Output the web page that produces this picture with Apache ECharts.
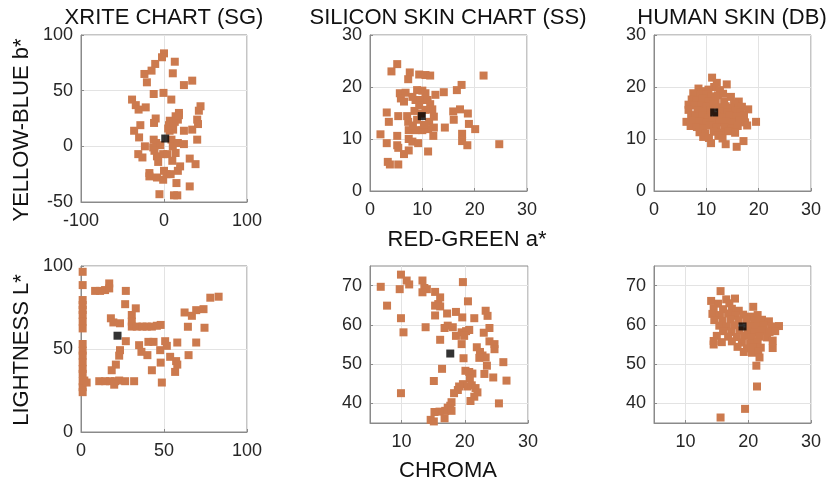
<!DOCTYPE html>
<html>
<head>
<meta charset="utf-8">
<script src="https://cdn.jsdelivr.net/npm/echarts@6/dist/echarts.min.js"></script>
<style>
html, body { margin: 0; padding: 0; background: #fff; }
#main { width: 835px; height: 487px; }
</style>
</head>
<body>
<div id="main"></div>
<script>
// ---- data: [a*, b*] top row, [C, L*] bottom row ----
const sgAB = [[0,83.5],[-2.4,80],[-10.6,74],[-15,68],[-23.6,65],[-20.6,57.5],[13,76],[10.6,65.6],[34,59],[24,55],
    [-12.4,47],[-0.6,48],[8.8,42],[-38.5,42],[-34,37],[-30.6,33],[-22,35],[44,36],[42,32],[18,30],
    [14,27],[-10,25],[-12,21],[-28.5,19],[-36,14],[-30,8],[7,23],[10.6,20],[13,22],[16.7,24],
    [8,17],[6.7,14],[11,15],[24,14],[34,15],[40,24],[41,20],[40,6],[-12.4,6],[-9.4,3],
    [-23,0],[-13,-1],[-4.5,1],[9,6],[10.6,0],[16.7,3],[24,2],[-31,-7],[-26,-10],[-11.5,-4],
    [-8.5,-9],[-1,-7],[4,-7],[14,-6],[-7,-14],[10,-13],[31,-11],[38,-16],[16.7,-22],[19.4,-18],
    [0,-22],[3,-25],[8,-25],[-17.6,-24],[-17.6,-27],[-8.5,-28],[-1,-30],[15,-33],[31,-36],[-5.5,-43],
    [12,-44],[16,-44],[5,16],[6,19],[11,21],[15,25],[18,28]];
const sgMeanAB = [[1.5,7]];

const ssAB = [[5.2,24.4],[4.1,23],[7.6,22.8],[7.3,21.5],[9.4,22.4],[10.6,22.3],[11.5,22.2],[21.7,22.2],[17.5,20.4],[16.6,19.4],
    [5.7,18.8],[6.8,18.9],[5.9,17.8],[6.5,17.2],[9,19.4],[10,19.3],[10.6,18.8],[8.7,17.5],[9.7,17.5],[11,17.5],
    [12.5,18.5],[14.1,19],[11.5,16.7],[11.9,15.7],[8.5,15.4],[3.2,15.1],[3.6,13.3],[5.4,14.4],[7.1,14.4],[7.3,13.3],
    [11.3,13.3],[15.9,15.3],[17.2,15.7],[18.7,14.9],[16,13.7],[18.9,12.9],[20.1,11.9],[14.3,12.2],[12.2,12.2],[7.4,11.7],
    [8.7,11.7],[10,11.7],[11.1,11.9],[12.1,10.6],[2,10.9],[5.2,10.6],[7.4,10],[8.1,9.5],[9.2,9.2],[17.6,11],
    [17.6,9.6],[18.6,8.8],[24.7,9],[3.2,9.2],[5.2,8.8],[5.4,8.3],[11.1,7.6],[7.4,7.8],[6.5,7.1],[3.4,5.6],
    [3.8,5.1],[5.4,5.1],[8.1,18.1],[9.4,16.5],[10.6,15.6],[9,13.7],[10.3,12.7],[12.2,14.3],[8.2,12.6],[9.8,14.9]];
const ssMeanAB = [[9.9,14.4]];

const dbAB = [[11.1,21.8],[13.9,20.5],[12,20.8],[11.5,20],[8.5,19.7],[9.5,19.2],[10.4,19.5],[12.6,19.4],[7.5,18.8],[8.8,18.5],
    [10,18.6],[11,18.2],[12.2,18.4],[13.2,18.7],[14.7,18.1],[7.2,17.6],[8.2,17.4],[9.2,17.8],[10.5,17.3],[11.8,17.5],
    [13.4,17.2],[16.2,17.2],[15.3,16.8],[6.6,16.6],[7.8,16.5],[9,16.4],[10.1,16.2],[11.3,16.6],[12.5,16.1],[13.7,16.3],
    [14.6,16],[16.8,16.2],[6.6,15.6],[8.3,15.5],[9.6,15.2],[10.8,15.4],[12.8,15.3],[14,15.1],[15.5,15.4],[16.5,15.1],
    [18,15.7],[7.1,14.6],[8,14.3],[9.2,14.5],[10.4,14.1],[12,14.4],[13.2,14.2],[14.5,14.6],[15.8,14.3],[17.2,14.6],
    [6.2,13.3],[7.5,13.5],[8.7,13.3],[10,13.1],[11.2,13.6],[12.6,13.2],[13.9,13.4],[15.1,13.1],[16.3,13.5],[17.4,13.2],
    [19.5,13.3],[7,12.5],[8.2,12.3],[9.4,12.1],[10.7,12.6],[12,12.2],[13.5,12.3],[14.8,12.1],[16,12.5],[17.8,12.6],
    [8.7,11.3],[9.8,11.1],[11.4,11.4],[12.8,11.2],[14.2,11.5],[15.5,11.2],[9.4,10.4],[10.5,10.2],[12.3,10.6],[13.1,10.1],
    [10.9,9.2],[13.7,9],[17.1,9.6],[15.8,8.5]];
const dbMeanAB = [[11.5,15.1]];

const sgLC = [[1,96.5],[1,88.5],[1,79.5],[1,76.5],[1,73.5],[1,70.5],[1,66.5],[1,62.4],[1,53],[1,49],
    [1,46],[1,42],[1,38],[1,35],[1,30.5],[1,27],[1,24],[2,31],
    [8.5,85],[11.5,85],[14.5,85.5],[17,86.5],[17,89.5],[27,85],[26.6,77],[33,74.5],[30.6,70.5],[30.6,66.5],
    [30.6,63.5],[33.6,63.5],[37,63.5],[39.6,63.5],[42.7,63.5],[45.7,64],[48,64.5],[18,68.5],[19.5,66],[23.5,65.5],
    [27,54.7],[23.5,49.3],[23,46],[21,40.6],[18.5,37.2],[3.4,29.8],[11,30.6],[14.5,30.6],[17.5,30.6],[20.5,30.6],
    [23,31],[26.6,30.6],[32,30.6],[20,28.5],[48.7,29.8],[35,52.3],[36.4,48.3],[40,46.3],[40.6,54.3],[43.7,54.3],
    [47.7,49.3],[48,41.8],[42.7,37.2],[50.7,54.7],[51.7,51.9],[53.7,45.3],[57.3,42.7],[58,40.6],[56.7,36.2],[58,53.9],
    [64.8,46.3],[69.4,53.9],[64.4,63.4],[62.4,72],[66.8,70],[69.4,73.4],[73.8,74],[74.4,62.8],[77.9,80.9],[82.9,81.5]];
const sgMeanLC = [[22,58]];

const ssLC = [[6.7,69.7],[7.7,64.9],[9.9,72.8],[9.7,69.1],[10.8,71.3],[11.2,70.3],[9.9,61.7],[10.3,58.1],[9.9,42.6],[13.3,71.3],
    [13.6,69.4],[14,69.1],[13.3,68.3],[15.3,68.4],[16.1,67],[15.8,65.3],[15.3,64.9],[16.1,64.7],[15.3,62.4],[17.2,62.9],
    [18.6,63.3],[19.7,70.9],[20.5,66],[19.6,61.9],[21.5,61.7],[13.8,59.4],[16.8,59.2],[17.3,59.8],[18.1,59.4],[18.6,57.2],
    [19.5,58.1],[20.2,58.4],[20.7,58.7],[19.9,57.2],[16.1,56.2],[19.5,55.1],[23.3,63.6],[23.6,62.3],[23.9,59.2],[23,58],
    [23.9,55.8],[24.7,55.1],[24.7,53.8],[21.9,54.3],[22.4,53.1],[22.8,52.2],[23.3,51.7],[22.3,51.6],[23.5,49.6],[23.1,47.5],
    [24.5,46.6],[26.1,50.5],[26.6,45.8],[25.4,40],[19.8,51.5],[16.4,48.8],[15.1,45.7],[20.1,48.3],[20.7,48],[21.2,47.6],
    [20.8,46.3],[19.7,44.9],[20.4,44.3],[21.1,44.6],[21.7,43.9],[22,42.8],[21.5,41.7],[20.9,40.6],[18.9,43.4],[18.3,42.6],
    [19.1,44.3],[17.9,40.3],[17.7,39.4],[17.3,38.9],[16.9,38.1],[17.9,38.1],[16,37.9],[15.2,37.8],[16.8,36.2],[14.6,35.8],
    [15.1,35.4]];
const ssMeanLC = [[17.7,52.7]];

const dbLC = [[15.6,68.6],[14.1,66.1],[17.9,66.7],[16.5,66.5],[17,65.5],[15.2,65.4],[20.8,64.6],[14.5,64.2],[16,64],[17.4,64.1],
    [18.5,63.6],[14.3,62.8],[15.5,62.5],[16.8,62.9],[18,62.3],[19.2,62.6],[20.3,62.1],[21.5,62.5],[14.6,61.2],[15.9,61],
    [17.2,61.4],[18.5,61.1],[19.8,61.3],[21,61],[22.2,61.3],[23.3,60.9],[15.4,59.8],[16.6,59.6],[17.8,59.9],[20.2,59.7],
    [21.4,59.5],[22.5,59.9],[23.7,59.6],[24.9,59.7],[16,58.4],[17.3,58.2],[18.6,58.6],[19.9,58.3],[21,58.1],[22.2,58.5],
    [23.4,58.2],[24.3,58.4],[15,57.2],[16.8,57],[18.2,56.9],[19.4,57.2],[20.6,56.7],[21.8,57],[23,56.8],[14.5,55.9],
    [15.8,55.6],[17.4,55.8],[19,55.5],[20.3,55.3],[21.5,55.6],[23.9,56],[14.5,55],[18.3,54.4],[19.8,54],[20.9,54.3],
    [22,54.2],[23.9,54.1],[19.3,53.1],[20.6,52.9],[21.6,53.2],[21.8,51.7],[21.3,49.6],[21.4,44.3],[19.5,38.6],[15.6,36.4]];
const dbMeanLC = [[19.1,59.6]];

// tick labels
const sgTicksA = [-100, 0, 100], sgTicksB = [-50, 0, 50, 100];
const skinTicksAB = [0, 10, 20, 30];
const sgTicksLC = [0, 50, 100];
const skinTicksC = [10, 20, 30], skinTicksL = [40, 50, 60, 70];

const titles = ['XRITE CHART (SG)', 'SILICON SKIN CHART (SS)', 'HUMAN SKIN (DB)'];

const c_dot = '#cc7a4e';
const c_text = '#262626';
const c_box = '#8a8a8a';
const font = 'Liberation Sans, Arial, Helvetica, sans-serif';

let Panels = {
    init() {
        this.chart = echarts.init(document.getElementById('main'));
        this.grid = [];
        this.xAxis = [];
        this.yAxis = [];
        this.series = [];
        // top row
        this.add([81, 35, 166, 167], [-100, 100, sgTicksA], [-50, 100, sgTicksB], sgAB, sgMeanAB);
        this.add([370, 35, 157, 156], [0, 30, skinTicksAB], [0, 30, skinTicksAB], ssAB, ssMeanAB);
        this.add([654, 35, 157, 156], [0, 30, skinTicksAB], [0, 30, skinTicksAB], dbAB, dbMeanAB);
        // bottom row
        this.add([81, 266, 166, 166], [0, 100, sgTicksLC], [0, 100, sgTicksLC], sgLC, sgMeanLC);
        this.add([370, 266, 158, 157], [5, 30, skinTicksC], [35, 75, skinTicksL], ssLC, ssMeanLC);
        this.add([654, 266, 157, 157], [5, 30, skinTicksC], [35, 75, skinTicksL], dbLC, dbMeanLC);

        this.chart.setOption({
            animation: false,
            backgroundColor: '#fff',
            grid: this.grid,
            xAxis: this.xAxis,
            yAxis: this.yAxis,
            series: this.series,
            graphic: this.labels()
        });
    },
    axis(r, pos) {
        return {
            type: 'value',
            gridIndex: this.grid.length - 1,
            position: pos,
            min: r[0],
            max: r[1],
            axisLine: { show: true, onZero: false, lineStyle: { color: c_box, width: 1 } },
            axisTick: { show: true, inside: true, length: 3, customValues: r[2], lineStyle: { color: c_box } },
            axisLabel: {
                customValues: r[2], color: c_text, fontSize: 18, fontFamily: font,
                margin: pos === 'bottom' ? 10 : 8, showMinLabel: true, showMaxLabel: true
            },
            splitLine: { show: true, lineStyle: { color: '#e3e3e3', width: 1 } }
        };
    },
    add(box, xr, yr, pts, mean) {
        this.grid.push({
            left: box[0], top: box[1], width: box[2], height: box[3],
            show: true, borderColor: c_box, borderWidth: 1, backgroundColor: '#fff'
        });
        let i = this.grid.length - 1;
        this.xAxis.push(this.axis(xr, 'bottom'));
        this.yAxis.push(this.axis(yr, 'left'));
        this.series.push({
            type: 'scatter', xAxisIndex: i, yAxisIndex: i,
            symbol: 'rect', symbolSize: 8, data: pts,
            itemStyle: { color: c_dot, opacity: 1 }
        }, {
            type: 'scatter', xAxisIndex: i, yAxisIndex: i, z: 5,
            symbol: 'rect', symbolSize: 8, data: mean,
            itemStyle: { color: '#000' }
        });
    },
    labels() {
        let txt = (x, y, s, rot) => ({
            type: 'text', x: x, y: y, rotation: rot || 0,
            style: {
                text: s, fill: '#111', font: '22px ' + font,
                textAlign: 'center', textVerticalAlign: 'middle'
            }
        });
        return [
            txt(164, 18, titles[0]),
            txt(448, 18, titles[1]),
            txt(732, 18, titles[2]),
            txt(467, 240, 'RED-GREEN a*'),
            txt(448, 471, 'CHROMA'),
            txt(22, 130, 'YELLOW-BLUE b*', Math.PI / 2),
            txt(22, 350, 'LIGHTNESS L*', Math.PI / 2)
        ];
    }
};
Panels.init();
</script>
</body>
</html>
